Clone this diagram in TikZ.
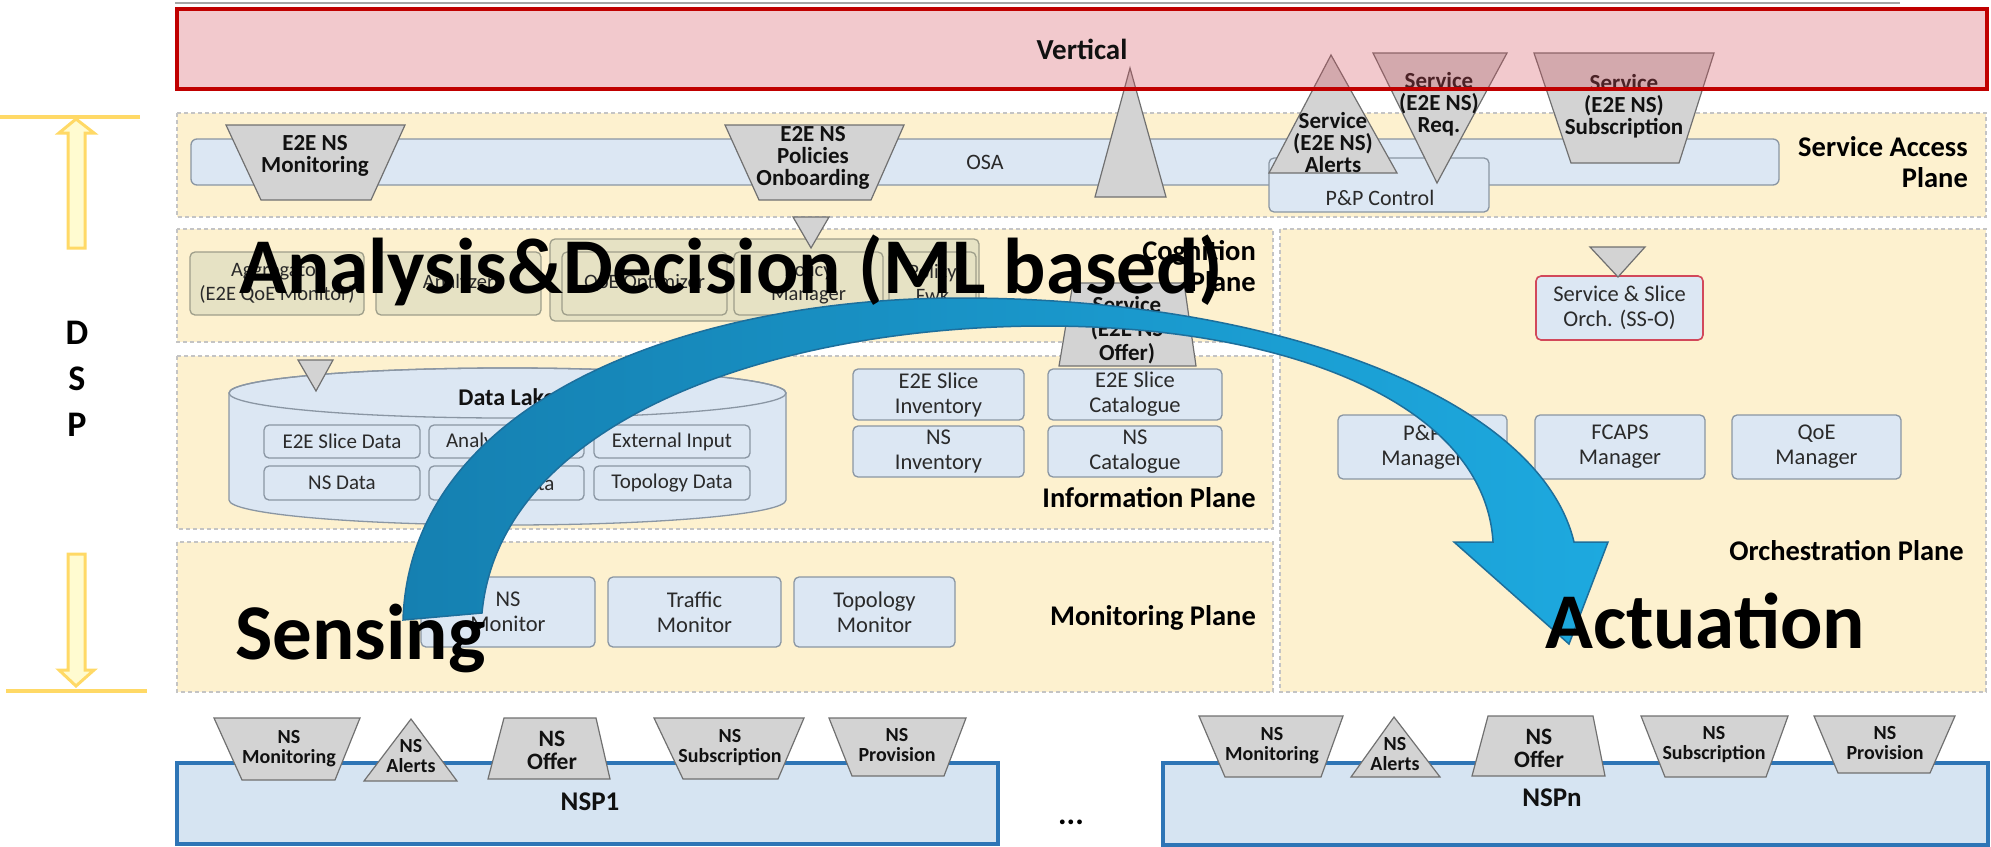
\documentclass[tikz,border=0pt]{standalone}
\usepackage{fontspec}
\setmainfont{Carlito}
\newfontfamily\plainfont{Carlito}
\newcommand{\setfs}[2]{\fontsize{#1}{#2}\selectfont}
% box node from its two corners: style, name, x1, y1, x2, y2, text
\newcommand{\rbox}[7]{\node[#1, minimum width={(#5-#3)*1pt}, minimum height={(#6-#4)*1pt}] (#2) at ({(#3+#5)/2},{(#4+#6)/2}) {#7};}

\definecolor{panelfill}{HTML}{FDF1CF}
\definecolor{paneledge}{HTML}{C4C4C4}
\definecolor{boxfill}{HTML}{DCE7F3}
\definecolor{boxedge}{HTML}{8A96A3}
\definecolor{cogfill}{HTML}{E6E2C4}
\definecolor{cogedge}{HTML}{9E9E8A}
\definecolor{shapefill}{HTML}{D3D3D3}
\definecolor{shapeedge}{HTML}{707070}
\definecolor{txt}{HTML}{2A2A2A}
\definecolor{txtdark}{HTML}{111111}
\definecolor{vertfill}{RGB}{212,75,88}
\definecolor{vertedge}{HTML}{C00000}
\definecolor{ssoedge}{HTML}{D2485A}
\definecolor{nspfill}{HTML}{D6E4F2}
\definecolor{nspedge}{HTML}{2E75B6}
\definecolor{arrowL}{HTML}{1580B1}
\definecolor{arrowM}{HTML}{1A95C9}
\definecolor{arrowR}{HTML}{1DA9DF}
\definecolor{arrowedge}{HTML}{1D6F9C}
\definecolor{dspfill}{HTML}{FFFBD0}
\definecolor{dspedge}{HTML}{FFD966}
\definecolor{rulegrey}{HTML}{A6A6A6}

\begin{document}
\begin{tikzpicture}[x=1pt,y=-1pt,
  panel/.style={fill=panelfill, draw=paneledge, dash pattern=on 4pt off 3pt, line width=1.2pt},
  bbox/.style={rounded corners=5pt, fill=boxfill, draw=boxedge, line width=1.3pt, text=txt, align=center, inner sep=1pt, font=\setfs{22.5}{25}},
  cbox/.style={bbox, fill=cogfill, draw=cogedge, font=\setfs{20.5}{24}},
  gshape/.style={fill=shapefill, draw=shapeedge, line width=1.2pt, line join=miter},
  stext/.style={align=center, text=txtdark, font=\bfseries\setfs{23}{22}, inner sep=0pt},
  nstext/.style={align=center, text=txtdark, font=\bfseries\setfs{20}{20}, inner sep=0pt},
  plabel/.style={font=\bfseries\setfs{28.5}{31}, text=black, align=right, inner sep=0pt},
  bigtext/.style={font=\plainfont\bfseries\setfs{79}{80}, text=black, inner sep=0pt},
  nspbox/.style={fill=nspfill, draw=nspedge, line width=4pt},
  dsparrow/.style={fill=dspfill, draw=dspedge, line width=3pt, line join=miter},
  dsp/.style={font=\bfseries\setfs{36}{36}, text=black, inner sep=0pt},
]
\useasboundingbox (0,0) rectangle (1991,846);

% thin rule along the top
\draw[rulegrey, line width=1.5pt] (175,3) -- (1900,3);

% DSP span marker on the left
\draw[dspedge, line width=4pt] (0,117) -- (140,117);
\draw[dspedge, line width=4pt] (6,691) -- (147,691);
\path[dsparrow] (76,119) -- (94,133) -- (85,133) -- (85,248) -- (68,248) -- (68,133) -- (59,133) -- cycle;
\path[dsparrow] (76,686) -- (94,670) -- (85,670) -- (85,554) -- (68,554) -- (68,670) -- (59,670) -- cycle;
\node[dsp] (dspD) at (77,333) {D};
\node[dsp] (dspS) at (77,379) {S};
\node[dsp] (dspP) at (77,425) {P};

% planes
\path[panel] (177,113) rectangle (1986,217);
\path[panel] (177,229) rectangle (1273,342);
\path[panel] (177,356) rectangle (1273,529);
\path[panel] (177,542) rectangle (1273,692);
\path[panel] (1280,229) rectangle (1986,692);

\node[plabel, anchor=east] (lblsap) at (1968,162) {Service Access\\Plane};
\node[plabel, anchor=east] (lblcog) at (1256,266) {Cognition\\Plane};
\node[plabel, anchor=base east] (lblinf) at (1256,507) {Information Plane};
\node[plabel, anchor=base east] (lblmon) at (1256,625) {Monitoring Plane};
\node[plabel, anchor=base east] (lblorc) at (1964,560) {Orchestration Plane};

% service access plane
\rbox{bbox, rounded corners=6pt, font=\setfs{22}{24}}{osa}{191}{139}{1779}{185}{OSA}
\rbox{bbox}{ppc}{1269}{158}{1489}{212}{}
\node[font=\setfs{22}{24}, text=txt] (ppctext) at (1380,198) {P\&P Control};

\path[gshape] (226,125) -- (405,125) -- (371,200) -- (261,200) -- cycle;
\node[stext] (e2emon) at (315,156) {E2E NS\\Monitoring};
\path[gshape] (725,125) -- (904,125) -- (871,200) -- (759,200) -- cycle;
\node[stext] (e2epol) at (813,158) {E2E NS\\Policies\\Onboarding};
\path[gshape] (1130,68) -- (1166,197) -- (1095,197) -- cycle;
\path[gshape] (1331,55) -- (1397,173) -- (1269,173) -- cycle;
\node[stext] (svcalert) at (1333,143) {Service\\(E2E NS)\\Alerts};
\path[gshape] (1373,53) -- (1507,53) -- (1437,183) -- cycle;
\node[stext] (svcreq) at (1439,104) {Service\\(E2E NS)\\Req.};
\path[gshape] (1534,53) -- (1714,53) -- (1679,163) -- (1571,163) -- cycle;
\node[stext] (svcsub) at (1624,106) {Service\\(E2E NS)\\Subscription};

% vertical layer on top
\node[draw=vertedge, line width=3.5pt, fill=vertfill, fill opacity=0.3, draw opacity=1, text opacity=1,
      minimum width=1810pt, minimum height=80pt, font=\bfseries\setfs{29}{30}, text=txtdark] (vertical) at (1082,49) {Vertical};

% cognition plane
\rbox{cbox}{coggroup}{550}{239}{979}{321}{}
\rbox{cbox}{aggr}{190}{252}{364}{315}{Aggregator\\(E2E QoE Monitor)}
\rbox{cbox}{analyzer}{376}{252}{541}{315}{Analyzer}
\rbox{cbox}{qoeopt}{562}{252}{727}{315}{QoE Optimizer}
\rbox{cbox}{polman}{734}{252}{883}{315}{Policy\\Manager}
\rbox{cbox}{polfwk}{889}{252}{976}{315}{Policy\\Fwk}
\path[gshape] (793,217) -- (829,217) -- (811,248) -- cycle;

% information plane
\path[fill=boxfill, draw=boxedge, line width=1.3pt] (229,393) -- (229,500)
   arc[start angle=180, end angle=0, x radius=278.5, y radius=25] -- (786,393)
   arc[start angle=0, end angle=-180, x radius=278.5, y radius=25] -- cycle;
\draw[boxedge, line width=1.3pt] (507.5,393) ellipse [x radius=278.5, y radius=25];
\node[font=\bfseries\setfs{24}{26}, text=txtdark] (datalake) at (507,397) {Data Lake};
\path[gshape] (298,360) -- (333,360) -- (316,391) -- cycle;
\rbox{bbox, font=\setfs{21}{24}}{dslice}{264}{425}{420}{458}{E2E Slice Data}
\rbox{bbox, font=\setfs{21}{24}}{danal}{429}{425}{584}{458}{Analytics Data}
\rbox{bbox, font=\setfs{21}{24}}{dext}{594}{425}{750}{458}{External Input}
\rbox{bbox, font=\setfs{21}{24}}{dns}{264}{466}{420}{500}{NS Data}
\rbox{bbox, font=\setfs{21}{24}}{dtraf}{429}{466}{584}{500}{Traffic Data}
\rbox{bbox, font=\setfs{21}{24}}{dtopo}{594}{466}{750}{500}{Topology Data}
\rbox{bbox}{slinv}{853}{369}{1024}{420}{E2E Slice\\Inventory}
\rbox{bbox}{nsinv}{853}{426}{1024}{477}{NS\\Inventory}
\rbox{bbox}{slcat}{1048}{369}{1222}{420}{E2E Slice\\Catalogue}
\rbox{bbox}{nscat}{1048}{426}{1222}{477}{NS\\Catalogue}
\path[gshape] (1073,283) -- (1184,283) -- (1196,366) -- (1059,366) -- cycle;
\node[stext, font=\bfseries\setfs{23}{24}] (svcoffer) at (1127,330) {Service\\(E2E NS\\Offer)};

% monitoring plane
\rbox{bbox}{nsmon}{421}{577}{595}{647}{NS\\Monitor}
\rbox{bbox}{trmon}{608}{577}{781}{647}{Traffic\\Monitor}
\rbox{bbox}{topmon}{794}{577}{955}{647}{Topology\\Monitor}

% orchestration plane
\rbox{bbox, draw=ssoedge, line width=1.6pt}{sso}{1536}{276}{1703}{340}{Service \& Slice\\Orch. (SS-O)}
\path[gshape] (1590,247) -- (1645,247) -- (1618,277) -- cycle;
\rbox{bbox}{ppman}{1338}{415}{1507}{479}{P\&P\\Manager}
\rbox{bbox}{fcaps}{1535}{415}{1705}{479}{FCAPS\\Manager}
\rbox{bbox}{qoeman}{1732}{415}{1901}{479}{QoE\\Manager}

% network service providers
\path[nspbox] (177,763) rectangle (998,844);
\path[nspbox] (1163,763) rectangle (1988,845);
\node[font=\bfseries\setfs{27}{28}, text=txtdark] (nsp1) at (590,802) {NSP1};
\node[font=\bfseries\setfs{27}{28}, text=txtdark] (nspn) at (1552,798) {NSPn};
\node[font=\bfseries\setfs{32}{32}, text=black] (dots) at (1071,822) {...};

\path[gshape] (214,718) -- (360,718) -- (335,780) -- (242,780) -- cycle;
\node[nstext] (amon) at (289,749) {NS\\Monitoring};
\path[gshape] (411,719) -- (457,781) -- (364,781) -- cycle;
\node[nstext] (aalert) at (411,756) {NS\\Alerts};
\path[gshape] (504,718) -- (596,718) -- (610,779) -- (488,779) -- cycle;
\node[nstext, font=\bfseries\setfs{23.5}{23}] (aoffer) at (552,750) {NS\\Offer};
\path[gshape] (654,718) -- (804,718) -- (778,779) -- (683,779) -- cycle;
\node[nstext] (asub) at (730,748) {NS\\Subscription};
\path[gshape] (829,718) -- (966,718) -- (944,776) -- (852,776) -- cycle;
\node[nstext] (aprov) at (897,745) {NS\\Provision};

\path[gshape] (1199,716) -- (1343,716) -- (1321,777) -- (1225,777) -- cycle;
\node[nstext] (bmon) at (1272,746) {NS\\Monitoring};
\path[gshape] (1394,717) -- (1440,777) -- (1351,777) -- cycle;
\node[nstext] (balert) at (1395,754) {NS\\Alerts};
\path[gshape] (1488,716) -- (1593,716) -- (1605,776) -- (1472,776) -- cycle;
\node[nstext, font=\bfseries\setfs{23.5}{23}] (boffer) at (1539,748) {NS\\Offer};
\path[gshape] (1641,716) -- (1788,716) -- (1766,777) -- (1665,777) -- cycle;
\node[nstext] (bsub) at (1714,745) {NS\\Subscription};
\path[gshape] (1814,716) -- (1955,716) -- (1930,773) -- (1838,773) -- cycle;
\node[nstext] (bprov) at (1885,743) {NS\\Provision};

% sensing -> decision -> actuation loop
\path[draw=arrowedge, line width=1.5pt, line join=miter, left color=arrowL, middle color=arrowM, right color=arrowR]
  (403,620) .. controls (410,400) and (690,298) .. (960,298)
  .. controls (1280,298) and (1540,400) .. (1574,542)
  -- (1608,542) -- (1569,644) -- (1454,542) -- (1493,542)
  .. controls (1485,405) and (1290,326) .. (1045,326)
  .. controls (775,326) and (500,420) .. (482,613) -- cycle;

\node[bigtext, anchor=base west] (analysis) at (239,293) {Analysis\&Decision (ML based)};
\node[bigtext, anchor=base west] (sensing) at (235,659) {Sensing};
\node[bigtext, anchor=base west] (actuation) at (1545,648) {Actuation};
\end{tikzpicture}
\end{document}
